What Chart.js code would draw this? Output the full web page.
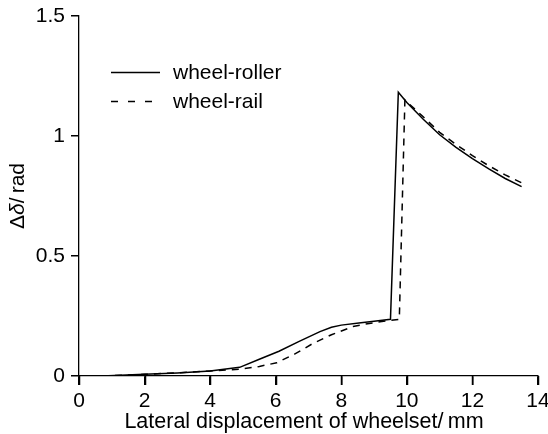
<!DOCTYPE html>
<html>
<head>
<meta charset="utf-8">
<script src="https://cdn.jsdelivr.net/npm/chart.js@4/dist/chart.umd.min.js"></script>
<style>
  html, body { margin: 0; padding: 0; background: #ffffff; }
  #wrap { width: 548px; height: 434px; position: relative; }
</style>
</head>
<body>
<div id="wrap"><canvas id="chart" width="548" height="434"></canvas></div>
<script>
// Lateral displacement of wheelset (mm) and yaw-angle difference (rad)
const rollerX = [0.7, 2.0, 3.0, 4.0, 4.9, 5.5, 6.1, 6.7, 7.35, 7.7, 8.0, 8.6, 9.0, 9.5, 9.74, 10.0, 10.5, 11.0, 11.5, 12.0, 12.5, 13.0, 13.5];
const rollerY = [0.0, 0.007, 0.013, 0.021, 0.036, 0.07, 0.103, 0.143, 0.185, 0.203, 0.212, 0.222, 0.228, 0.236, 1.182, 1.14, 1.07, 1.005, 0.953, 0.906, 0.863, 0.823, 0.789];

const railX = [0.7, 2.0, 3.0, 4.0, 4.9, 5.5, 6.03, 6.6, 7.14, 7.7, 8.36, 8.8, 9.18, 9.77, 9.94, 10.5, 11.0, 11.5, 12.0, 12.5, 13.0, 13.5];
const railY = [0.0, 0.007, 0.013, 0.021, 0.028, 0.04, 0.055, 0.093, 0.136, 0.172, 0.206, 0.218, 0.226, 0.236, 1.15, 1.08, 1.015, 0.965, 0.918, 0.876, 0.838, 0.805];

const seriesNames = ['wheel-roller', 'wheel-rail'];
const xTitle = 'Lateral displacement of wheelset/\u2009mm';

const FONT = '"Liberation Sans", Arial, Helvetica, sans-serif';
const toPoints = (xs, ys) => xs.map((x, i) => ({ x: x, y: ys[i] }));

// Axis titles (y title has an italic delta), outward x tick marks and the in-plot legend
const annotations = {
  id: 'annotations',
  afterDraw(chart) {
    const ctx = chart.ctx;
    const xs = chart.scales.x;
    const area = chart.chartArea;
    ctx.save();
    ctx.fillStyle = '#000';
    ctx.strokeStyle = '#000';

    // tick marks below the x axis
    ctx.lineWidth = 1.5;
    xs.ticks.forEach(t => {
      const px = Math.round(xs.getPixelForValue(t.value)) + 0.5;
      ctx.beginPath();
      ctx.moveTo(px, area.bottom);
      ctx.lineTo(px, area.bottom + 9);
      ctx.stroke();
    });

    // x-axis title
    ctx.font = '21.5px ' + FONT;
    ctx.textAlign = 'center';
    ctx.textBaseline = 'alphabetic';
    ctx.fillText(xTitle, 304, 428);

    // y-axis title, rotated
    const parts = [
      { t: '\u0394', f: '21px ' + FONT },
      { t: '\u03B4', f: 'italic 21px ' + FONT },
      { t: '/\u2009rad', f: '21px ' + FONT }
    ];
    let total = 0;
    parts.forEach(p => { ctx.font = p.f; p.w = ctx.measureText(p.t).width; total += p.w; });
    ctx.translate(24, 196);
    ctx.rotate(-Math.PI / 2);
    ctx.textAlign = 'left';
    let px = -total / 2;
    parts.forEach(p => { ctx.font = p.f; ctx.fillText(p.t, px, 0); px += p.w; });
    ctx.setTransform(1, 0, 0, 1, 0, 0);

    // legend
    const rows = [
      { y: 72.5, dash: [] },
      { y: 101.5, dash: [7, 10] }
    ];
    ctx.lineWidth = 1.5;
    ctx.font = '21px ' + FONT;
    ctx.textAlign = 'left';
    ctx.textBaseline = 'middle';
    rows.forEach((r, i) => {
      ctx.setLineDash(r.dash);
      ctx.beginPath();
      ctx.moveTo(111, r.y);
      ctx.lineTo(160, r.y);
      ctx.stroke();
      ctx.fillText(seriesNames[i], 173, r.y + 1);
    });
    ctx.restore();
  }
};

new Chart(document.getElementById('chart'), {
  type: 'line',
  data: {
    datasets: [
      {
        label: seriesNames[0],
        data: toPoints(rollerX, rollerY),
        borderColor: '#000',
        borderWidth: 1.5,
        pointRadius: 0,
        tension: 0,
        fill: false
      },
      {
        label: seriesNames[1],
        data: toPoints(railX, railY),
        borderColor: '#000',
        borderWidth: 1.5,
        borderDash: [7, 6],
        pointRadius: 0,
        tension: 0,
        fill: false
      }
    ]
  },
  options: {
    responsive: false,
    animation: false,
    events: [],
    layout: { padding: { top: 16, right: 10, left: 0, bottom: 0 } },
    plugins: { legend: { display: false }, tooltip: { enabled: false } },
    scales: {
      x: {
        type: 'linear',
        min: 0,
        max: 14,
        afterFit(s) { s.height = 58; s.paddingRight = 0; s.paddingLeft = 0; },
        ticks: { stepSize: 2, color: '#000', font: { family: FONT, size: 21 }, padding: 4, maxRotation: 0 },
        grid: { drawOnChartArea: false, drawTicks: true, tickLength: 9, color: '#000', tickColor: '#000', lineWidth: 1.5, tickWidth: 1.5 },
        border: { display: true, color: '#000', width: 1.3 }
      },
      y: {
        type: 'linear',
        min: 0,
        max: 1.5,
        afterFit(s) { s.width = 79; s.paddingTop = 0; s.paddingBottom = 0; },
        ticks: { stepSize: 0.5, color: '#000', font: { family: FONT, size: 21 }, padding: 6, callback: v => String(v) },
        grid: { drawOnChartArea: false, drawTicks: true, tickLength: 8, color: '#000', tickColor: '#000', lineWidth: 1.5, tickWidth: 1.5 },
        border: { display: true, color: '#000', width: 1.3 }
      }
    }
  },
  plugins: [annotations]
});
</script>
</body>
</html>
